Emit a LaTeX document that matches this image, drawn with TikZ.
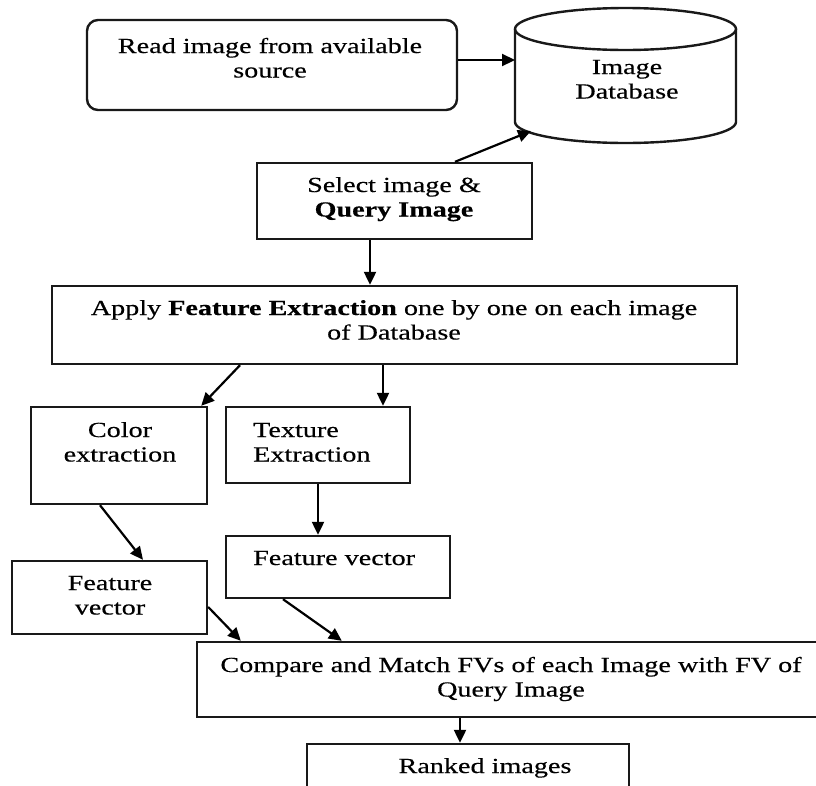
\documentclass[tikz,border=0pt]{standalone}
\usepackage{fontspec}
\setmainfont[FakeStretch=1.31,FakeBold=0.4]{Liberation Serif}
\usetikzlibrary{arrows.meta}
\newcommand{\twoc}[2]{\begin{tabular}[t]{@{}c@{}}#1\\#2\end{tabular}}
\newcommand{\twol}[2]{\begin{tabular}[t]{@{}l@{}}#1\\#2\end{tabular}}
\begin{document}
\begin{tikzpicture}[x=1pt,y=-1pt,
  box/.style={draw=black!90, line width=2.4pt, inner sep=0pt, fill=none},
  txt/.style={anchor=base, inner sep=0pt, font=\fontsize{21.5}{24.5}\selectfont, text=black},
  arr/.style={draw=black, line width=2.2pt, -{Triangle[length=13pt,width=12pt]}}]
\useasboundingbox (0,0) rectangle (816,785);
\fill[white] (0,0) rectangle (816,785);

% boxes
\node[box, rounded corners=11pt, minimum width=370pt, minimum height=90pt] (read) at (272,65) {};
\node[inner sep=0pt, minimum width=221pt, minimum height=135pt] (db) at (625.5,75.5) {};
\draw[line width=2.4pt, black!90] (515,29) -- (515,122) arc[start angle=180, end angle=0, x radius=110.5, y radius=21] -- (736,29);
\draw[line width=2.4pt, black!90] (625.5,29) ellipse[x radius=110.5, y radius=21];
\node[box, minimum width=275pt, minimum height=76pt] (sel) at (394.5,201) {};
\node[box, minimum width=685pt, minimum height=78pt] (app) at (394.5,325) {};
\node[box, minimum width=176pt, minimum height=97pt] (col) at (119,455.5) {};
\node[box, minimum width=184pt, minimum height=76pt] (tex) at (318,445) {};
\node[box, minimum width=195pt, minimum height=73pt] (lfv) at (109.5,597.5) {};
\node[box, minimum width=224pt, minimum height=62pt] (rfv) at (338,567) {};
\node[box, minimum width=620pt, minimum height=75pt] (cmp) at (507,679.5) {};
\node[box, minimum width=322pt, minimum height=80pt] (rank) at (468,784) {};

% texts
\node[txt] (tread) at (270,53) {\twoc{Read image from available}{source}};
\node[txt] (tdb) at (627,74) {\twoc{Image}{Database}};
\node[txt] (tsel) at (394,192) {\twoc{Select image \&}{\textbf{Query Image}}};
\node[txt] (tapp) at (394,315) {\twoc{Apply \textbf{Feature Extraction} one by one on each image}{of Database}};
\node[txt] (tcol) at (120,437) {\twoc{Color}{extraction}};
\node[txt, anchor=base west] (ttex) at (253,437) {\twol{Texture}{Extraction}};
\node[txt] (tlfv) at (110,590) {\twoc{Feature}{vector}};
\node[txt, anchor=base west] (trfv) at (253,565) {Feature vector};
\node[txt] (tcmp) at (511,672) {\twoc{Compare and Match FVs of each Image with FV of}{Query Image}};
\node[txt] (trank) at (485,773) {Ranked images};

% connectors
\coordinate (dbL) at (515,60);
\coordinate (dbB) at (531,131);
\draw[arr] (read.east |- dbL) -- (dbL);
\draw[arr] ([xshift=60.5pt]sel.north) -- (dbB);
\draw[arr] ([xshift=-24.5pt]sel.south) -- ([xshift=-24.5pt]sel.south |- app.north);
\draw[arr] ([xshift=-154.5pt]app.south) -- ([xshift=-7pt]col.north east);
\draw[arr] ([xshift=65pt]tex.north |- app.south) -- ([xshift=65pt]tex.north);
\draw[arr] ([xshift=-19pt]col.south) -- ([xshift=33.5pt]lfv.north);
\draw[arr] (tex.south) -- (tex.south |- rfv.north);
\draw[arr] ([yshift=-9.5pt]lfv.east) -- ([xshift=45pt]cmp.north west);
\draw[arr] ([xshift=-55pt]rfv.south) -- ([xshift=146pt]cmp.north west);
\draw[arr] ([xshift=-8pt]rank.north |- cmp.south) -- ([xshift=-8pt]rank.north);
\end{tikzpicture}
\end{document}
